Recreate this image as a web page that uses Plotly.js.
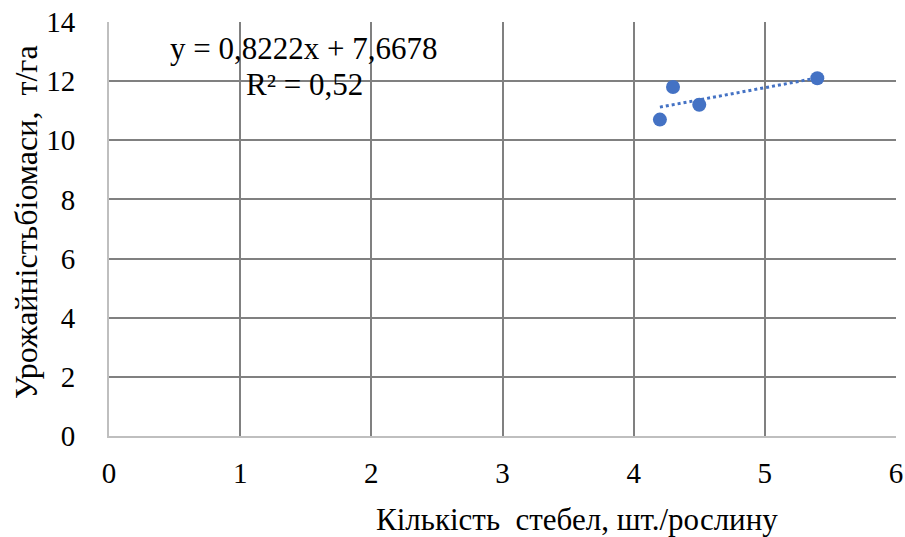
<!DOCTYPE html>
<html>
<head>
<meta charset="utf-8">
<script src="https://cdn.plot.ly/plotly-3.0.1.min.js"></script>
<style>html,body{margin:0;padding:0;background:#fff;}#chart{width:905px;height:537px;}</style>
</head>
<body>
<div id="chart"></div>
<script>
const stems = [4.2, 4.3, 4.5, 5.4];
const yieldBio = [10.7, 11.8, 11.2, 12.1];
const xTicks = [0, 1, 2, 3, 4, 5, 6];
const yTicks = [0, 2, 4, 6, 8, 10, 12, 14];
const xTitle = 'Кількість  стебел, шт./рослину';
const yTitle = 'Урожайністьбіомаси,  т/га';

// linear regression
const n = stems.length;
const mx = stems.reduce((a,b)=>a+b,0)/n;
const my = yieldBio.reduce((a,b)=>a+b,0)/n;
let sxx=0, sxy=0, syy=0;
for (let i=0;i<n;i++){sxx+=(stems[i]-mx)**2; sxy+=(stems[i]-mx)*(yieldBio[i]-my); syy+=(yieldBio[i]-my)**2;}
const slope = sxy/sxx, intercept = my - slope*mx, r2 = sxy*sxy/(sxx*syy);
const xmin = Math.min(...stems), xmax = Math.max(...stems);
const fmt = (v,d)=>v.toFixed(d).replace('.', ',');

const FAM = 'Liberation Serif';
const f = (s)=>({family: FAM, size: s, color: '#000'});

Plotly.newPlot('chart', [
  {x: stems, y: yieldBio, type: 'scatter', mode: 'markers',
   marker: {color: '#4472C4', size: 14}, showlegend: false, hoverinfo: 'none'},
  {x: [xmin, xmax], y: [intercept + slope*xmin, intercept + slope*xmax], type: 'scatter', mode: 'lines',
   line: {color: '#4472C4', width: 3, dash: 'dot'}, showlegend: false, hoverinfo: 'none'}
], {
  width: 905, height: 537,
  margin: {l: 109, r: 9, t: 22, b: 101},
  paper_bgcolor: '#fff', plot_bgcolor: '#fff',
  font: f(28),
  xaxis: {range: [0, 6], tickvals: xTicks, ticktext: xTicks.map(String), showgrid: true, gridcolor: '#808080', gridwidth: 2,
    zeroline: false, showline: true, linecolor: '#bfbfbf', linewidth: 2, ticks: '', ticklen: 0,
    tickfont: f(29), ticklabelstandoff: 10},
  yaxis: {range: [0, 14], tickvals: yTicks, ticktext: yTicks.map(String), showgrid: true, gridcolor: '#808080', gridwidth: 2,
    zeroline: false, showline: true, linecolor: '#bfbfbf', linewidth: 2, ticks: '', ticklen: 0,
    tickfont: f(29), ticklabelstandoff: 26},
  annotations: [
    {xref: 'x', yref: 'y', x: 1.48, y: 13.12, xanchor: 'center', yanchor: 'middle', showarrow: false,
     text: 'y = ' + fmt(slope,4) + 'x + ' + fmt(intercept,4), font: f(31)},
    {xref: 'x', yref: 'y', x: 1.49, y: 11.87, xanchor: 'center', yanchor: 'middle', showarrow: false,
     text: 'R² = ' + fmt(r2,2), font: f(31)},
    {xref: 'paper', yref: 'paper', x: (577-109)/787, y: -(519-436)/414, xanchor: 'center', yanchor: 'middle', showarrow: false,
     text: xTitle, font: f(31)},
    {xref: 'paper', yref: 'paper', x: -(109-26)/787, y: (436-222)/414, xanchor: 'center', yanchor: 'middle', showarrow: false,
     textangle: -90, text: yTitle, font: f(32)}
  ]
}, {displayModeBar: false, staticPlot: true});
</script>
</body>
</html>
